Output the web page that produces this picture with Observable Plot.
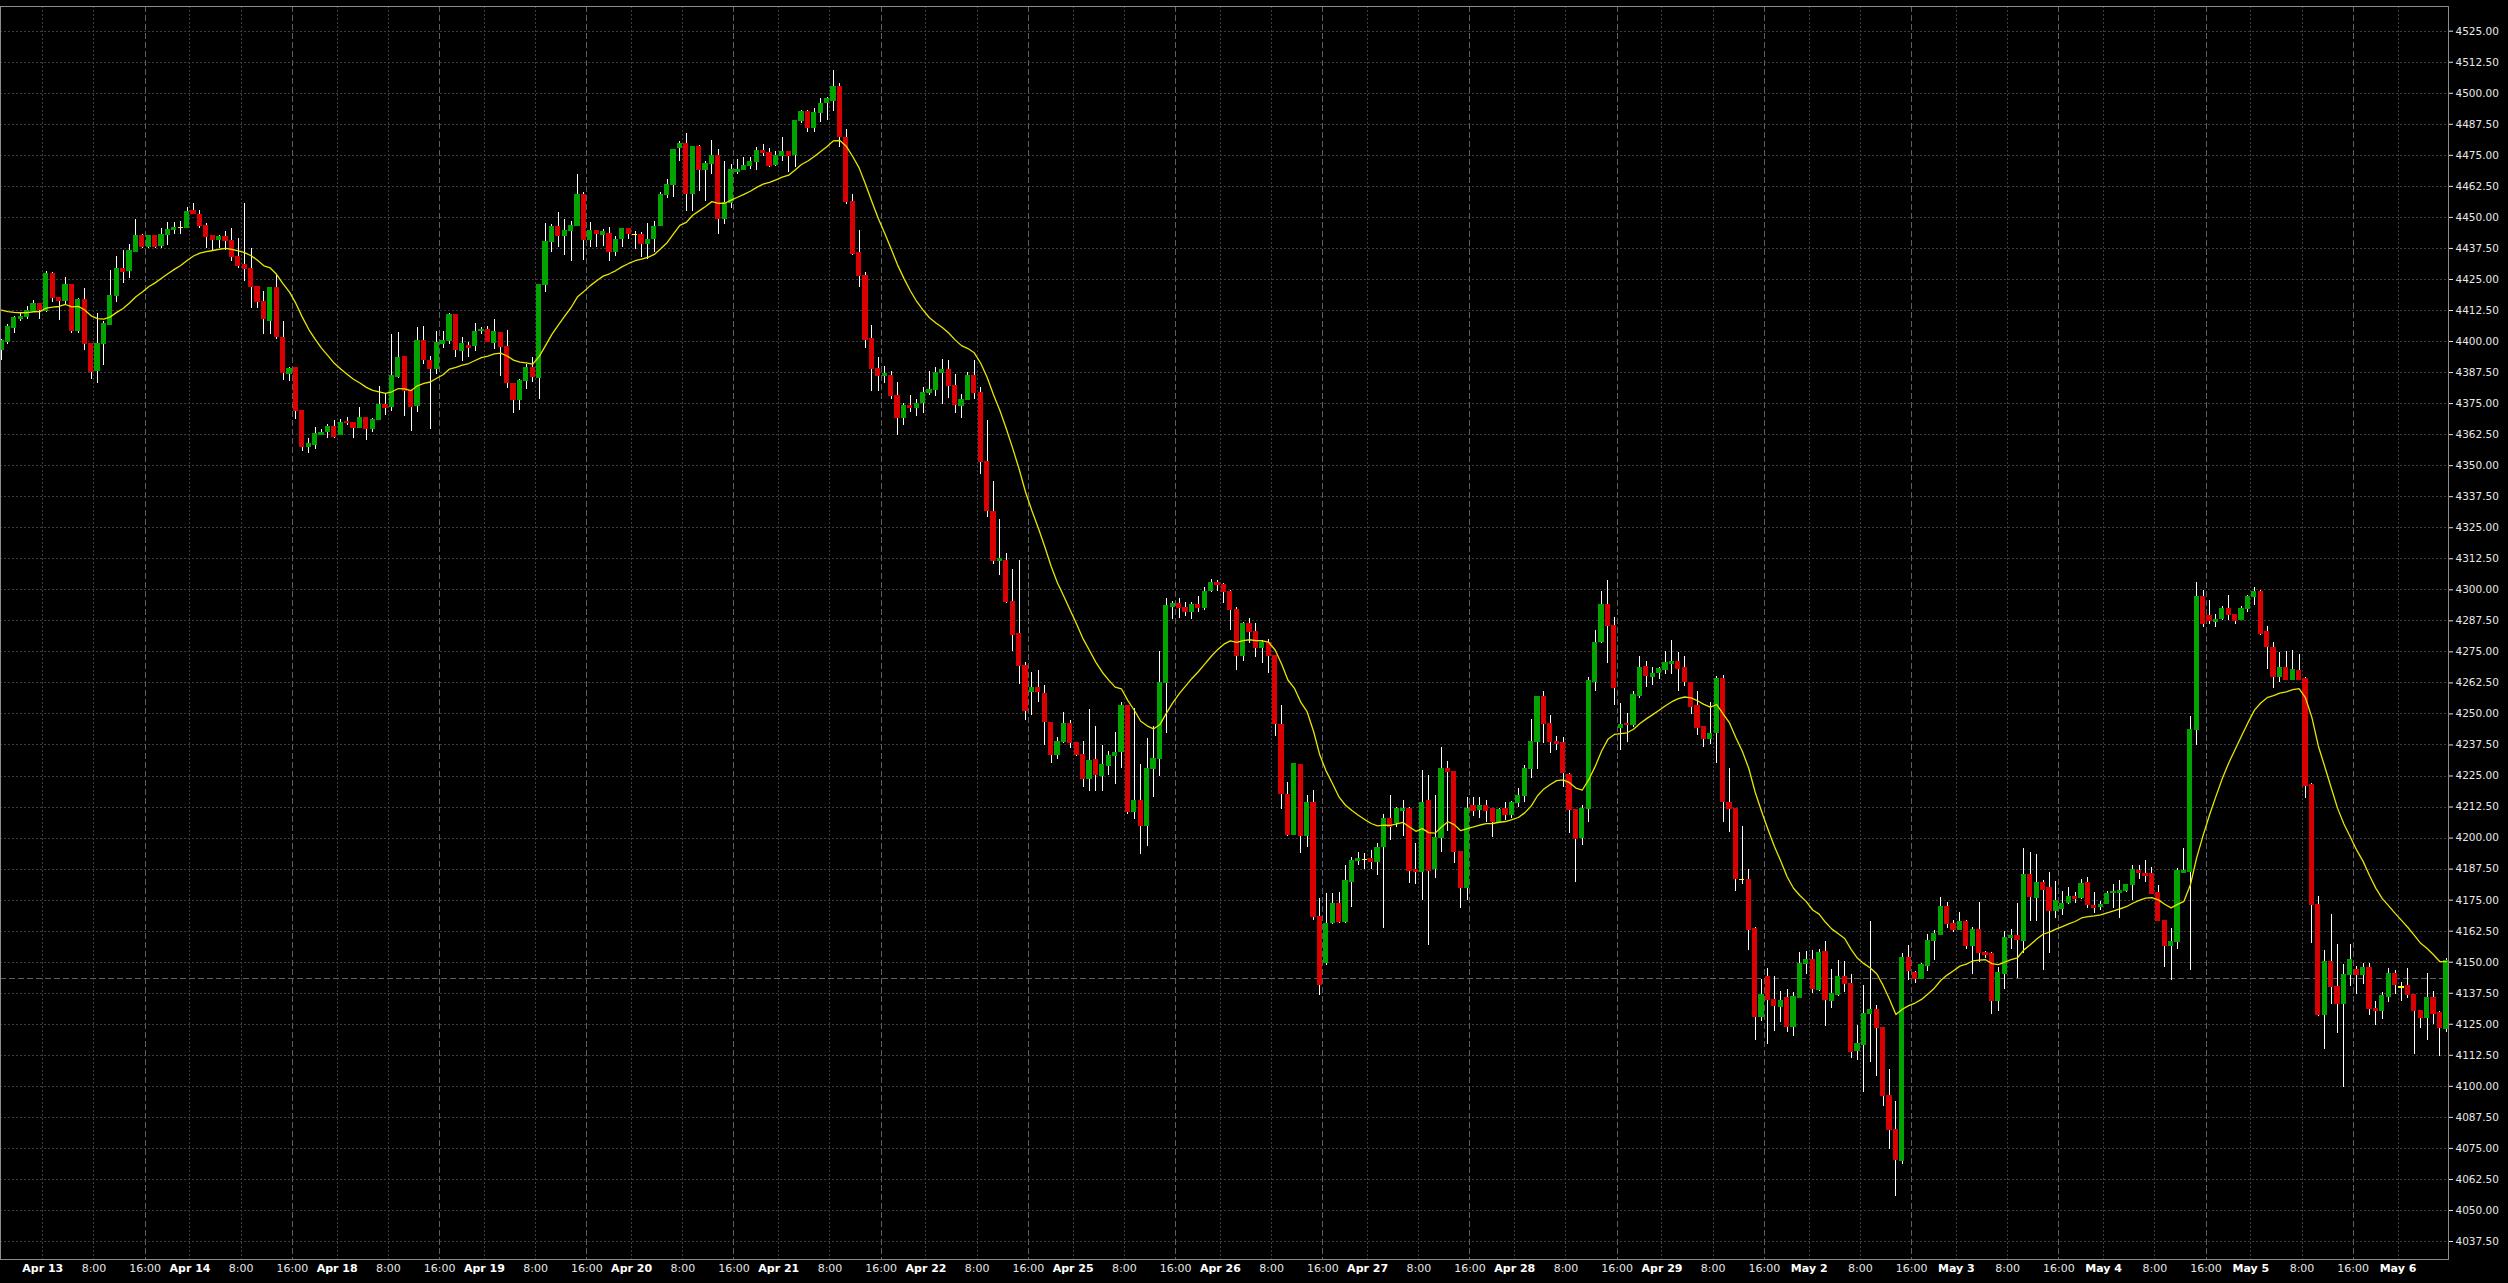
<!DOCTYPE html>
<html>
<head>
<meta charset="utf-8">
<script src="https://cdn.jsdelivr.net/npm/d3@7"></script>
<script src="https://cdn.jsdelivr.net/npm/@observablehq/plot@0.6"></script>
<style>
html, body { margin: 0; padding: 0; background: #000; overflow: hidden; }
#chart { width: 2508px; height: 1283px; overflow: hidden; }
#chart svg { display: block; }
</style>
</head>
<body>
<div id="chart"></div>
<script>
// ---- Data (hourly candles, Apr 13 – May 6) ----
const opens = [
4396.5,4400.0,4405.6,4409.3,4410.0,4412.4,4415.0,4412.5,4427.0,4417.5,
4416.4,4422.6,4404.4,4416.5,4398.9,4388.3,4398.9,4406.9,4418.5,4429.0,
4428.6,4436.3,4442.3,4438.3,4442.3,4438.7,4443.0,4444.8,4445.6,4445.6,
4452.4,4451.1,4446.4,4442.3,4440.9,4441.9,4440.5,4434.0,4430.6,4429.3,
4422.0,4415.9,4408.5,4421.5,4401.2,4386.8,4389.5,4371.9,4357.4,4358.5,
4362.5,4363.7,4365.7,4362.2,4367.7,4367.1,4365.3,4369.0,4364.7,4368.5,
4374.2,4373.8,4385.9,4393.9,4380.2,4373.9,4400.1,4392.1,4389.0,4399.1,
4400.1,4410.6,4396.1,4398.1,4398.1,4404.2,4404.6,4399.6,4403.5,4397.8,
4382.8,4376.5,4384.0,4389.1,4385.4,4422.7,4440.1,4446.1,4442.5,4444.5,
4446.5,4459.0,4440.9,4444.5,4443.1,4443.2,4436.2,4441.4,4445.4,4443.0,
4443.0,4439.4,4441.4,4446.5,4459.0,4463.0,4478.0,4479.4,4459.3,4478.4,
4469.2,4471.4,4474.7,4449.2,4455.9,4468.5,4469.0,4470.7,4472.3,4476.7,
4476.1,4471.1,4474.7,4476.3,4475.1,4489.0,4492.4,4486.0,4492.2,4496.3,
4497.1,4502.5,4482.0,4456.1,4435.5,4426.3,4400.8,4388.9,4386.2,4386.2,
4378.0,4369.3,4373.8,4373.2,4375.2,4379.4,4380.6,4387.4,4388.4,4382.2,
4374.2,4376.3,4386.0,4379.2,4351.4,4331.3,4311.5,4311.7,4295.1,4282.2,
4269.3,4258.9,4260.4,4257.9,4246.4,4233.6,4238.7,4245.9,4238.3,4233.6,
4223.8,4231.6,4225.0,4229.2,4233.2,4234.6,4253.1,4210.4,4214.7,4204.8,
4227.9,4232.0,4262.4,4293.3,4294.1,4292.7,4290.9,4293.8,4292.7,4299.5,
4302.5,4301.7,4299.1,4291.9,4273.5,4286.3,4282.9,4276.5,4278.7,4273.3,
4245.4,4217.5,4201.4,4229.2,4201.0,4214.2,4168.0,4149.6,4165.9,4173.5,
4166.1,4182.5,4190.7,4191.3,4191.6,4190.6,4196.6,4207.5,4206.0,4211.0,
4211.8,4186.9,4186.3,4214.7,4187.4,4200.1,4227.6,4226.6,4194.3,4179.8,
4212.9,4211.5,4212.7,4211.5,4206.4,4211.5,4209.5,4214.2,4216.8,4227.9,
4238.6,4256.7,4246.0,4238.6,4238.2,4225.5,4211.1,4200.0,4211.8,4263.1,
4278.9,4293.7,4285.2,4244.3,4246.0,4245.7,4257.4,4268.8,4265.0,4266.5,
4267.7,4270.3,4270.8,4268.4,4262.4,4253.0,4244.5,4240.1,4242.3,4264.0,
4214.1,4211.6,4183.0,4183.0,4163.2,4127.8,4144.2,4134.7,4132.0,4135.7,
4123.8,4135.8,4149.3,4150.8,4138.8,4154.0,4134.4,4136.9,4143.9,4141.2,
4114.1,4116.6,4129.1,4130.6,4123.5,4096.1,4082.4,4069.9,4151.5,4145.6,
4143.2,4148.4,4158.4,4161.0,4172.2,4165.4,4163.2,4166.2,4156.6,4162.8,
4153.7,4153.4,4134.4,4145.2,4159.6,4160.4,4158.5,4185.2,4176.1,4181.7,
4179.8,4170.6,4171.4,4173.8,4176.3,4175.9,4181.7,4172.4,4172.1,4173.4,
4178.0,4178.0,4178.6,4181.0,4186.5,4185.3,4185.3,4177.7,4166.6,4156.7,
4158.1,4185.9,4186.5,4243.4,4296.9,4289.6,4287.1,4288.2,4292.4,4289.9,
4287.8,4292.4,4297.2,4298.9,4282.9,4276.7,4264.9,4268.5,4263.9,4267.4,
4263.9,4221.2,4173.1,4128.7,4150.2,4139.8,4133.1,4144.7,4146.7,4144.7,
4147.7,4131.1,4130.4,4135.9,4145.3,4139.8,4140.5,4136.8,4130.4,4127.6,
4135.6,4129.3,4123.2
];
const highs = [
4400.7,4407.0,4410.0,4411.4,4414.0,4416.5,4415.2,4428.2,4428.0,4417.7,
4425.8,4423.0,4417.5,4421.4,4399.0,4411.2,4408.0,4428.6,4434.3,4436.7,
4439.0,4449.0,4443.0,4442.5,4442.5,4445.7,4448.0,4448.0,4448.4,4453.8,
4455.5,4452.7,4447.7,4442.5,4442.7,4444.4,4445.4,4441.4,4455.8,4437.4,
4422.0,4420.2,4421.6,4426.9,4408.1,4389.5,4389.5,4372.4,4361.0,4365.3,
4364.4,4366.7,4368.3,4368.7,4369.4,4367.2,4373.4,4369.1,4369.0,4381.9,
4379.2,4403.0,4403.6,4394.1,4380.2,4405.8,4406.2,4394.1,4404.2,4404.2,
4411.1,4410.8,4401.5,4399.5,4407.4,4405.5,4406.2,4408.9,4403.6,4404.4,
4382.8,4384.7,4390.7,4393.4,4422.8,4447.4,4447.2,4451.9,4449.2,4448.5,
4467.1,4460.2,4448.1,4444.6,4445.2,4446.1,4442.5,4445.5,4445.4,4444.5,
4443.8,4447.6,4448.5,4460.2,4465.1,4477.3,4480.4,4483.9,4478.4,4478.8,
4472.7,4480.8,4477.4,4472.7,4471.4,4473.4,4474.0,4474.0,4478.1,4479.4,
4477.8,4476.7,4482.1,4476.4,4488.9,4493.0,4493.0,4493.7,4497.8,4498.4,
4509.1,4503.9,4485.4,4459.3,4444.8,4427.9,4406.3,4393.4,4390.0,4387.8,
4383.7,4375.0,4378.1,4376.5,4381.6,4387.8,4389.5,4392.9,4392.3,4386.8,
4378.5,4387.4,4392.5,4381.6,4368.3,4343.6,4328.4,4314.8,4308.0,4311.7,
4270.6,4266.5,4267.6,4261.4,4246.5,4240.6,4250.7,4247.3,4238.4,4238.7,
4251.7,4244.9,4237.1,4234.7,4242.4,4254.6,4253.2,4252.1,4229.6,4240.2,
4244.9,4275.2,4296.4,4295.2,4296.4,4294.7,4294.7,4297.3,4300.9,4304.0,
4303.6,4302.7,4299.7,4293.0,4287.0,4288.3,4286.3,4279.6,4279.9,4273.3,
4253.4,4222.5,4230.2,4229.2,4217.2,4219.2,4175.5,4177.8,4177.5,4178.0,
4189.0,4192.3,4194.3,4193.9,4195.0,4197.7,4209.5,4217.2,4212.4,4215.1,
4212.4,4197.7,4227.2,4225.2,4217.2,4236.4,4230.9,4226.6,4194.3,4216.5,
4216.5,4216.5,4215.1,4211.5,4211.8,4214.5,4214.9,4219.8,4229.2,4247.6,
4257.0,4259.1,4249.4,4241.0,4240.7,4225.9,4211.1,4213.1,4264.8,4283.6,
4299.5,4303.8,4288.7,4254.1,4250.0,4259.2,4273.1,4271.2,4268.7,4268.7,
4275.0,4279.7,4274.6,4273.1,4262.4,4259.2,4244.5,4254.8,4265.0,4265.5,
4228.1,4212.0,4204.7,4187.4,4164.0,4143.2,4147.5,4144.2,4138.3,4139.1,
4137.9,4154.0,4154.4,4154.7,4155.2,4158.4,4147.1,4150.5,4150.1,4144.9,
4124.7,4140.5,4166.2,4132.5,4123.5,4106.8,4093.9,4153.7,4156.6,4146.4,
4149.6,4161.3,4162.8,4175.9,4174.2,4166.9,4170.1,4166.6,4164.0,4173.9,
4154.4,4154.0,4147.8,4162.5,4163.2,4173.5,4195.9,4194.0,4193.2,4182.8,
4186.3,4182.5,4178.6,4180.0,4178.0,4183.5,4184.2,4178.0,4174.5,4178.4,
4181.4,4182.8,4181.4,4189.0,4188.8,4191.1,4188.3,4180.7,4166.6,4163.4,
4187.9,4195.6,4249.0,4302.8,4299.6,4295.8,4289.9,4293.1,4297.6,4289.9,
4293.1,4297.9,4301.0,4299.6,4285.2,4278.8,4274.6,4275.0,4275.5,4274.1,
4264.6,4221.9,4176.6,4154.8,4169.2,4157.1,4149.2,4157.1,4148.1,4149.5,
4149.5,4134.3,4137.7,4147.4,4146.7,4141.9,4147.4,4136.8,4130.4,4145.6,
4138.4,4130.0,4151.6
];
const lows = [
4392.3,4399.0,4403.4,4408.0,4408.7,4412.0,4408.7,4411.8,4415.9,4408.5,
4414.8,4403.4,4403.4,4396.4,4384.7,4383.2,4390.3,4406.7,4415.9,4423.4,
4425.3,4436.3,4437.6,4437.6,4437.6,4437.6,4438.7,4443.3,4443.0,4445.6,
4451.0,4445.4,4437.6,4436.6,4437.6,4436.6,4432.3,4429.6,4424.2,4413.2,
4413.4,4402.7,4402.7,4401.0,4384.5,4384.1,4368.4,4355.9,4355.0,4356.6,
4362.0,4360.8,4360.8,4362.0,4366.1,4361.0,4365.0,4360.2,4363.3,4368.4,
4370.4,4371.8,4385.2,4369.8,4363.9,4371.6,4390.7,4364.5,4386.7,4397.2,
4398.8,4393.4,4391.8,4393.4,4396.1,4403.0,4399.5,4396.8,4386.0,4381.0,
4371.2,4372.2,4380.6,4383.3,4376.6,4419.6,4435.8,4437.8,4434.8,4432.4,
4446.5,4432.8,4437.8,4438.0,4438.4,4432.4,4434.1,4437.8,4441.1,4437.1,
4433.7,4433.1,4435.8,4446.5,4457.7,4457.9,4472.4,4452.3,4452.3,4460.6,
4456.6,4467.1,4443.1,4447.2,4453.6,4467.3,4469.0,4469.4,4469.0,4474.7,
4470.0,4470.4,4472.7,4468.0,4470.0,4487.8,4484.0,4484.0,4488.1,4488.9,
4492.6,4478.2,4455.2,4434.7,4421.7,4397.1,4380.0,4380.0,4382.9,4376.5,
4362.0,4366.2,4371.3,4369.7,4370.9,4378.4,4378.0,4374.5,4377.1,4370.9,
4368.8,4376.3,4376.5,4346.3,4329.2,4310.3,4305.6,4294.5,4275.2,4262.0,
4247.3,4249.4,4254.8,4237.1,4230.1,4231.5,4238.1,4236.2,4233.0,4220.3,
4218.9,4218.9,4218.7,4225.4,4221.4,4228.1,4209.5,4207.3,4193.5,4196.6,
4216.3,4224.7,4242.2,4288.2,4288.6,4289.2,4288.0,4290.9,4291.7,4298.9,
4299.5,4294.6,4283.6,4267.5,4271.3,4278.2,4272.9,4270.5,4266.2,4240.9,
4211.5,4200.6,4201.0,4193.9,4196.4,4166.8,4136.6,4148.7,4165.2,4165.5,
4165.5,4172.2,4189.0,4187.5,4187.5,4184.9,4163.5,4199.0,4204.4,4200.6,
4181.6,4181.3,4174.9,4156.7,4183.6,4194.3,4202.7,4189.6,4171.8,4174.9,
4208.7,4207.8,4206.4,4200.4,4206.4,4207.1,4207.8,4212.4,4214.5,4223.9,
4227.5,4238.2,4234.2,4235.3,4220.5,4202.0,4182.2,4197.0,4206.4,4259.2,
4278.5,4270.5,4253.4,4235.3,4238.6,4244.5,4256.2,4260.6,4261.4,4263.9,
4265.8,4265.8,4259.2,4260.9,4249.7,4241.3,4236.5,4237.5,4229.9,4206.1,
4202.3,4178.3,4181.2,4154.9,4118.5,4126.0,4116.8,4122.2,4125.6,4121.5,
4120.0,4135.8,4145.0,4137.3,4138.3,4123.9,4131.4,4136.1,4137.6,4111.2,
4110.5,4097.7,4109.8,4103.9,4091.9,4074.6,4055.8,4068.7,4142.7,4141.3,
4143.2,4146.4,4150.5,4161.0,4163.7,4161.8,4163.2,4155.2,4144.9,4150.0,
4151.5,4128.8,4130.3,4139.0,4155.2,4143.4,4153.4,4166.2,4166.2,4146.7,
4153.7,4167.5,4168.9,4173.1,4173.8,4175.2,4171.7,4169.6,4171.0,4173.1,
4171.7,4167.5,4178.0,4175.0,4183.5,4182.1,4177.3,4166.2,4147.9,4142.6,
4155.1,4185.6,4146.5,4237.2,4284.7,4286.1,4284.7,4287.5,4287.5,4286.1,
4287.5,4291.0,4293.8,4281.6,4267.7,4260.2,4262.5,4263.5,4263.9,4263.5,
4216.1,4157.4,4128.0,4114.8,4133.1,4121.1,4099.6,4140.2,4136.8,4141.2,
4128.7,4124.6,4126.8,4133.6,4136.8,4134.0,4135.4,4112.8,4123.4,4118.3,
4125.1,4112.1,4121.8
];
const closes = [
4400.0,4406.0,4409.3,4410.0,4412.4,4415.0,4412.8,4427.0,4417.5,4416.4,
4422.6,4404.4,4416.5,4398.9,4387.9,4398.9,4406.9,4418.5,4429.0,4428.2,
4436.3,4442.3,4438.0,4442.3,4438.3,4443.0,4444.8,4445.6,4445.6,4452.0,
4451.3,4446.4,4442.3,4440.9,4441.9,4440.5,4434.0,4430.6,4429.3,4422.2,
4415.9,4409.0,4421.5,4401.7,4387.2,4388.8,4371.9,4357.4,4358.5,4362.9,
4363.3,4365.7,4361.7,4367.3,4367.1,4365.3,4369.0,4364.7,4368.5,4374.2,
4373.4,4385.9,4393.5,4380.0,4373.7,4400.1,4392.5,4389.0,4399.3,4400.1,
4410.6,4396.5,4398.8,4397.4,4403.8,4404.8,4399.9,4403.8,4397.8,4383.3,
4376.5,4384.0,4389.1,4385.8,4422.7,4440.1,4446.1,4442.5,4444.5,4446.5,
4459.0,4440.9,4444.5,4443.4,4443.9,4436.2,4440.9,4445.4,4443.4,4443.0,
4439.4,4440.9,4446.1,4459.0,4463.0,4477.2,4479.4,4459.3,4478.4,4469.2,
4471.4,4474.7,4449.2,4455.9,4469.0,4469.0,4470.7,4472.3,4476.7,4476.1,
4470.7,4474.7,4476.3,4474.7,4488.8,4492.4,4486.1,4492.2,4495.5,4497.6,
4502.5,4482.3,4456.3,4435.5,4426.5,4400.8,4388.9,4386.2,4386.8,4378.0,
4369.3,4373.8,4373.2,4375.0,4379.4,4380.6,4387.4,4388.4,4382.2,4374.5,
4376.3,4386.0,4379.2,4351.4,4331.7,4311.7,4312.2,4295.1,4281.8,4269.5,
4251.4,4260.4,4258.9,4246.6,4233.6,4238.7,4245.9,4238.3,4233.6,4223.8,
4231.0,4225.4,4229.2,4233.2,4234.2,4253.1,4210.6,4214.7,4204.8,4227.9,
4232.0,4262.4,4293.3,4294.1,4292.7,4290.9,4293.8,4292.7,4299.1,4302.5,
4301.9,4299.1,4291.9,4273.5,4286.3,4282.9,4276.5,4278.7,4273.3,4246.0,
4217.8,4201.4,4229.6,4201.0,4214.2,4168.2,4141.0,4165.5,4173.3,4166.1,
4182.5,4190.6,4191.6,4191.3,4190.3,4196.1,4207.5,4204.4,4211.5,4211.8,
4186.9,4186.3,4214.2,4186.9,4200.1,4227.9,4226.6,4194.3,4179.8,4211.5,
4211.1,4212.7,4211.1,4206.4,4211.1,4209.5,4214.2,4216.8,4227.9,4238.6,
4256.7,4246.0,4238.6,4238.0,4226.2,4211.5,4199.7,4211.8,4263.1,4278.7,
4293.7,4285.4,4260.4,4245.6,4245.4,4257.4,4268.4,4265.3,4266.2,4268.0,
4270.3,4270.8,4268.1,4262.8,4253.0,4244.5,4240.1,4241.9,4264.0,4214.5,
4211.6,4183.6,4183.0,4163.2,4127.8,4136.9,4134.7,4132.2,4134.2,4123.8,
4135.8,4149.3,4150.8,4139.1,4153.7,4134.7,4137.1,4143.9,4141.2,4113.9,
4117.1,4129.1,4130.6,4123.5,4096.1,4082.4,4070.2,4151.5,4146.4,4143.2,
4148.9,4158.4,4161.3,4172.2,4165.4,4163.2,4166.2,4156.6,4162.8,4153.7,
4152.8,4134.4,4145.6,4159.6,4160.4,4158.8,4185.2,4176.4,4181.7,4179.3,
4170.6,4174.5,4173.5,4176.3,4175.5,4181.3,4173.1,4172.0,4173.1,4177.5,
4178.4,4178.5,4181.0,4187.0,4185.9,4184.6,4177.7,4166.6,4156.4,4158.1,
4186.5,4186.5,4243.4,4296.9,4286.4,4287.4,4287.8,4292.4,4289.9,4287.4,
4292.4,4297.2,4298.9,4282.4,4276.8,4265.0,4268.5,4263.9,4267.7,4263.9,
4221.2,4173.1,4128.7,4150.2,4140.1,4133.1,4144.7,4150.9,4144.7,4147.7,
4131.1,4130.4,4136.2,4145.3,4140.8,4139.8,4136.8,4130.4,4127.6,4135.4,
4129.3,4123.5,4150.5
];
const dayLabels = ["Apr 13","Apr 14","Apr 18","Apr 19","Apr 20","Apr 21","Apr 22","Apr 25",
  "Apr 26","Apr 27","Apr 28","Apr 29","May 2","May 3","May 4","May 5","May 6"];
const hourLabels = ["8:00", "16:00"];
const priceTicks = [4037.5,4050,4062.5,4075,4087.5,4100,4112.5,4125,4137.5,4150,4162.5,4175,
  4187.5,4200,4212.5,4225,4237.5,4250,4262.5,4275,4287.5,4300,4312.5,4325,4337.5,4350,4362.5,
  4375,4387.5,4400,4412.5,4425,4437.5,4450,4462.5,4475,4487.5,4500,4512.5,4525];
const maPeriod = 20;      // moving average period (exponential)
const maStart = 4414;     // MA level at the left edge
const bidPrice = 4143.3;  // dashed current-price line

// ---- Build table ----
const bars = closes.map((c, i) => ({i, o: opens[i], h: highs[i], l: lows[i], c}));
const candleColor = d => d.c > d.o ? "#00a300" : d.c < d.o ? "#d80000" : "#ffff00";

// session structure: 23 hourly bars per day, day label between bars 6 and 7
const firstDayPos = 6.45, barsPerDay = 23, hourOffsets = [8, 16];
const lastPos = bars.length - 0.66;
const ticks = [];
dayLabels.forEach((d, k) => {
  const p = firstDayPos + barsPerDay * k;
  ticks.push({p, label: d, kind: "day"});
  hourLabels.forEach((h, j) => ticks.push({p: p + hourOffsets[j], label: h, kind: j === 1 ? "major" : "hour"}));
});
const visTicks = ticks.filter(t => t.p < lastPos);

function ema(values) {
  const a = 2 / (maPeriod + 1);
  let prev = maStart;
  return values.map(v => (prev = prev + a * (v - prev)));
}

const font = "DejaVu Sans";
const chart = Plot.plot({
  width: 2508,
  height: 1283,
  marginLeft: 0,
  marginRight: 60,
  marginTop: 6,
  marginBottom: 24,
  style: {background: "#000", color: "#fff", fontFamily: font},
  x: {domain: [-0.156, lastPos], axis: null},
  y: {domain: [4030.25, 4534.95], axis: null},
  color: {type: "identity"},
  marks: [
    Plot.ruleY(priceTicks, {stroke: "#3c3c3c", strokeDasharray: "2,2", shapeRendering: "crispEdges"}),
    Plot.ruleX(visTicks.filter(t => t.kind !== "major"), {x: "p", stroke: "#3c3c3c", strokeDasharray: "2,2", shapeRendering: "crispEdges"}),
    Plot.ruleX(visTicks.filter(t => t.kind === "major"), {x: "p", stroke: "#5e5e5e", strokeDasharray: "6,3", shapeRendering: "crispEdges"}),
    Plot.ruleY([bidPrice], {stroke: "#5e5e5e", strokeDasharray: "6,3", shapeRendering: "crispEdges"}),
    Plot.ruleX(bars, {x: "i", y1: "l", y2: "h", stroke: "#ffffff", strokeWidth: 1, shapeRendering: "crispEdges"}),
    Plot.rect(bars, {x1: d => d.i - 0.4, x2: d => d.i + 0.4, y1: "o", y2: "c", fill: candleColor,
      insetTop: -0.6, insetBottom: -0.6, shapeRendering: "crispEdges"}),
    Plot.lineY(bars, Plot.mapY(ema, {x: "i", y: "c", stroke: "#e6e600", strokeWidth: 1.3})),
    Plot.frame({stroke: "#8c8c8c"}),
    Plot.axisY(priceTicks, {anchor: "right", tickSize: 4, tickPadding: 3, tickFormat: d => d.toFixed(2),
      fontSize: 10.5, color: "#e8e8e8", fontFamily: font}),
    Plot.text(visTicks.filter(t => t.kind === "day"), {x: "p", text: "label", frameAnchor: "bottom", dy: 12,
      fill: "#ffffff", fontWeight: "bold", fontSize: 11, fontFamily: font}),
    Plot.text(visTicks.filter(t => t.kind !== "day"), {x: "p", text: "label", frameAnchor: "bottom", dy: 12,
      fill: "#e6e6e6", fontSize: 11, fontFamily: font})
  ]
});
document.getElementById("chart").appendChild(chart);
</script>
</body>
</html>
